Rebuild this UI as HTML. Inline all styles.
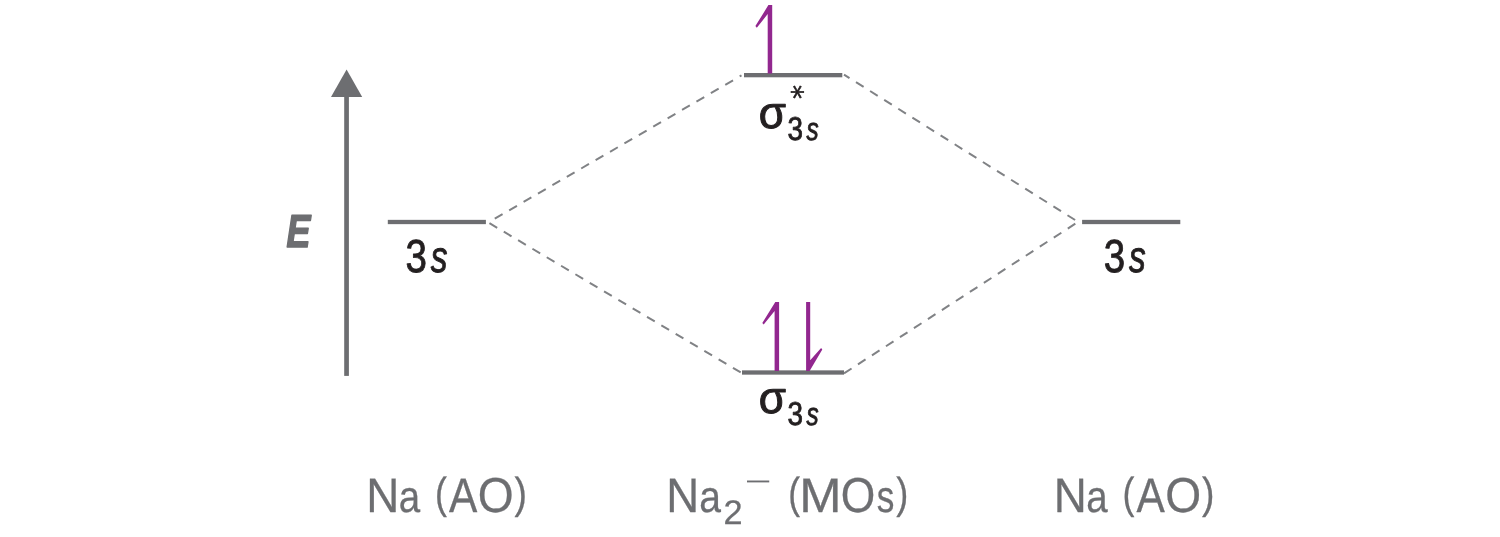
<!DOCTYPE html>
<html lang="en"><head><meta charset="utf-8"><title>Na2- molecular orbital diagram</title>
<style>
html,body{margin:0;padding:0;background:#fff;}
svg{display:block;}
text{font-family:"Liberation Sans",sans-serif;text-rendering:geometricPrecision;}
</style></head><body>
<svg width="1500" height="537" viewBox="0 0 1500 537" role="img">
<desc>Molecular orbital energy-level diagram for Na2−. Energy axis E. Left and right: Na (AO) 3s levels. Centre: Na2− (MOs) with bonding σ3s (two electrons) and antibonding σ*3s (one electron).</desc>
<rect width="1500" height="537" fill="#ffffff"/>
<rect x="387.8" y="219.85" width="98.1" height="4.30" fill="#6d6e71"/>
<rect x="1082.1" y="219.85" width="98.2" height="4.30" fill="#6d6e71"/>
<rect x="744.0" y="73.00" width="98.3" height="4.30" fill="#6d6e71"/>
<rect x="742.0" y="370.35" width="102.0" height="4.30" fill="#6d6e71"/>
<rect x="344.2" y="90" width="4.7" height="285.9" fill="#6d6e71"/>
<polygon points="346.6,69.6 362.2,96.9 331.0,96.9" fill="#6d6e71"/>
<line x1="488.4" y1="222.4" x2="741.5" y2="75.4" stroke="#808285" stroke-width="2.0" stroke-dasharray="9 7.66" stroke-dashoffset="9.30"/>
<line x1="488.6" y1="222.7" x2="741.8" y2="373.1" stroke="#808285" stroke-width="2.0" stroke-dasharray="9 7.66" stroke-dashoffset="-1.00"/>
<line x1="844.0" y1="74.6" x2="1077.0" y2="221.2" stroke="#808285" stroke-width="2.0" stroke-dasharray="9 7.66" stroke-dashoffset="2.50"/>
<line x1="844.0" y1="373.4" x2="1077.0" y2="222.6" stroke="#808285" stroke-width="2.0" stroke-dasharray="9 7.66" stroke-dashoffset="0.00"/>
<path d="M772.2,5.1 L768.4,5.1 L755.4,26.1 L756.8,27.7 L767.7,14.0 L767.7,73.5 L772.2,73.5 Z" fill="#92278f"/>
<path d="M779.1,302.0 L775.3,302.0 L762.3,323.0 L763.7,324.6 L774.6,310.9 L774.6,371.0 L779.1,371.0 Z" fill="#92278f"/>
<path d="M806.1,371.0 L809.6,371.0 L822.3,349.6 L821.1,348.1 L810.2,360.2 L810.2,302.0 L806.1,302.0 Z" fill="#92278f"/>
<defs><filter id="ga" x="0" y="0" width="1500" height="537" filterUnits="userSpaceOnUse" color-interpolation-filters="sRGB"><feOffset dx="0" dy="0"/></filter></defs>
<g filter="url(#ga)">
<text fill="#6d6e71" stroke="#6d6e71" stroke-width="1.60" stroke-linejoin="round"><tspan x="286.47" y="247.00" font-size="46.25" textLength="23.91" lengthAdjust="spacingAndGlyphs" font-style="italic" font-weight="bold">E</tspan></text>
<text fill="#231f20" stroke="#231f20" stroke-width="0.90" stroke-linejoin="round"><tspan x="405.51" y="272.09" font-size="46.22" textLength="21.43" lengthAdjust="spacingAndGlyphs">3</tspan><tspan x="430.77" y="272.11" font-size="44.20" textLength="16.75" lengthAdjust="spacingAndGlyphs" font-style="italic">s</tspan></text>
<text fill="#231f20" stroke="#231f20" stroke-width="0.90" stroke-linejoin="round"><tspan x="1103.71" y="272.09" font-size="46.22" textLength="21.43" lengthAdjust="spacingAndGlyphs">3</tspan><tspan x="1128.97" y="272.11" font-size="44.20" textLength="16.75" lengthAdjust="spacingAndGlyphs" font-style="italic">s</tspan></text>
<text fill="#231f20" stroke="#231f20" stroke-width="0.90" stroke-linejoin="round"><tspan x="758.63" y="127.65" font-size="45.02" textLength="27.22" lengthAdjust="spacingAndGlyphs" stroke-width="1.00">σ</tspan><tspan x="787.41" y="139.82" font-size="33.07" textLength="15.46" lengthAdjust="spacingAndGlyphs">3</tspan><tspan x="806.39" y="139.83" font-size="31.96" textLength="12.15" lengthAdjust="spacingAndGlyphs" font-style="italic">s</tspan></text>
<text fill="#231f20" stroke="#231f20" stroke-width="0.90" stroke-linejoin="round"><tspan x="758.63" y="413.05" font-size="45.02" textLength="27.22" lengthAdjust="spacingAndGlyphs" stroke-width="1.00">σ</tspan><tspan x="787.41" y="425.22" font-size="33.07" textLength="15.46" lengthAdjust="spacingAndGlyphs">3</tspan><tspan x="806.39" y="425.23" font-size="31.96" textLength="12.15" lengthAdjust="spacingAndGlyphs" font-style="italic">s</tspan></text>
<text fill="#6d6e71" stroke="#6d6e71" stroke-width="0.30" stroke-linejoin="round"><tspan x="366.28" y="511.65" font-size="48.44" textLength="33.03" lengthAdjust="spacingAndGlyphs">N</tspan><tspan x="398.82" y="511.60" font-size="44.75" textLength="21.38" lengthAdjust="spacingAndGlyphs">a</tspan> <tspan x="435.11" y="508.42" font-size="43.54" textLength="11.93" lengthAdjust="spacingAndGlyphs">(</tspan><tspan x="448.94" y="511.65" font-size="48.44" textLength="28.29" lengthAdjust="spacingAndGlyphs">A</tspan><tspan x="477.76" y="511.86" font-size="49.19" textLength="35.90" lengthAdjust="spacingAndGlyphs">O</tspan><tspan x="514.47" y="508.42" font-size="43.54" textLength="12.43" lengthAdjust="spacingAndGlyphs">)</tspan></text>
<text fill="#6d6e71" stroke="#6d6e71" stroke-width="0.30" stroke-linejoin="round"><tspan x="1053.78" y="511.65" font-size="48.44" textLength="33.03" lengthAdjust="spacingAndGlyphs">N</tspan><tspan x="1086.32" y="511.60" font-size="44.75" textLength="21.38" lengthAdjust="spacingAndGlyphs">a</tspan> <tspan x="1122.61" y="508.42" font-size="43.54" textLength="11.93" lengthAdjust="spacingAndGlyphs">(</tspan><tspan x="1136.44" y="511.65" font-size="48.44" textLength="28.29" lengthAdjust="spacingAndGlyphs">A</tspan><tspan x="1165.26" y="511.86" font-size="49.19" textLength="35.90" lengthAdjust="spacingAndGlyphs">O</tspan><tspan x="1201.97" y="508.42" font-size="43.54" textLength="12.43" lengthAdjust="spacingAndGlyphs">)</tspan></text>
<text fill="#6d6e71" stroke="#6d6e71" stroke-width="0.30" stroke-linejoin="round"><tspan x="666.19" y="511.65" font-size="48.44" textLength="32.90" lengthAdjust="spacingAndGlyphs">N</tspan><tspan x="699.19" y="511.60" font-size="44.75" textLength="21.70" lengthAdjust="spacingAndGlyphs">a</tspan><tspan x="723.64" y="524.15" font-size="34.12" textLength="19.07" lengthAdjust="spacingAndGlyphs">2</tspan><tspan x="744.81" y="490.15" font-size="25.71" textLength="26.73" lengthAdjust="spacingAndGlyphs" stroke="none">−</tspan> <tspan x="788.14" y="508.42" font-size="43.54" textLength="11.80" lengthAdjust="spacingAndGlyphs">(</tspan><tspan x="799.16" y="511.65" font-size="48.44" textLength="42.31" lengthAdjust="spacingAndGlyphs">M</tspan><tspan x="840.64" y="511.86" font-size="49.19" textLength="34.53" lengthAdjust="spacingAndGlyphs">O</tspan><tspan x="876.68" y="511.60" font-size="44.75" textLength="17.60" lengthAdjust="spacingAndGlyphs">s</tspan><tspan x="896.28" y="508.42" font-size="43.54" textLength="12.05" lengthAdjust="spacingAndGlyphs">)</tspan></text>
<text x="790.31" y="106.42" font-size="27.98" fill="#231f20" stroke="#231f20" stroke-width="0.6" style="font-family:&quot;DejaVu Sans&quot;,&quot;Liberation Sans&quot;,sans-serif" transform="rotate(90 797.30 92.05)">*</text>
</g>
</svg>
</body></html>
